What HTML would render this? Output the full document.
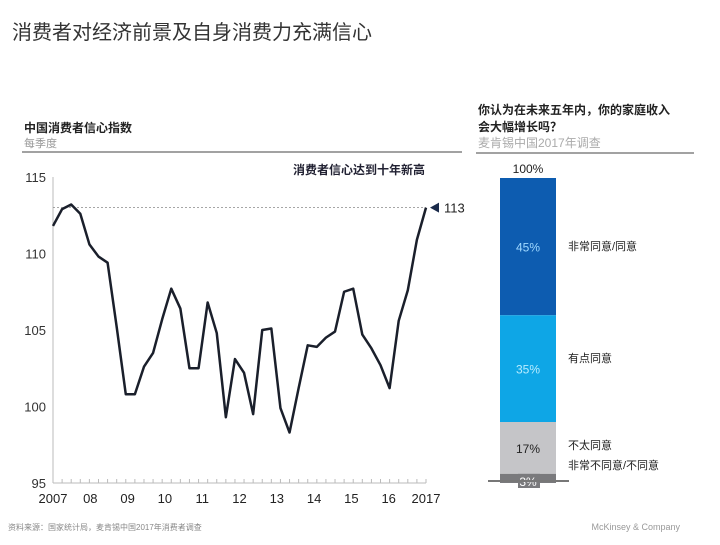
<!DOCTYPE html>
<html><head><meta charset="utf-8"><style>
body{margin:0;width:720px;height:540px;background:#fff;overflow:hidden;font-family:"Liberation Sans","Noto Sans CJK SC",sans-serif}
svg text{font-family:"Liberation Sans","Noto Sans CJK SC",sans-serif}
</style></head><body>
<svg width="720" height="540">
<text x="12" y="39" font-size="20" fill="#333">消费者对经济前景及自身消费力充满信心</text>
<text x="24" y="132" font-size="12" font-weight="bold" fill="#222">中国消费者信心指数</text>
<text x="24" y="147" font-size="11" fill="#999">每季度</text>
<line x1="22" y1="152" x2="462" y2="152" stroke="#444" stroke-width="1"/>
<text x="478" y="114" font-size="12" font-weight="bold" fill="#222">你认为在未来五年内，你的家庭收入</text>
<text x="478" y="131" font-size="12" font-weight="bold" fill="#222">会大幅增长吗？</text>
<text x="478" y="147" font-size="12" fill="#aaa">麦肯锡中国2017年调查</text>
<line x1="476" y1="153" x2="694" y2="153" stroke="#444" stroke-width="1"/>
<text x="425" y="174" font-size="12" font-weight="bold" fill="#223" text-anchor="end">消费者信心达到十年新高</text>
<g id="line"></g>
<g id="bar"></g>
<text x="8" y="530" font-size="8" fill="#888">资料来源：国家统计局，麦肯锡中国2017年消费者调查</text>
<text x="680" y="530" font-size="9" fill="#999" text-anchor="end">McKinsey &amp; Company</text>
</svg>
<script>
const values=[111.8,112.9,113.2,112.6,110.6,109.8,109.4,105.2,100.8,100.8,102.6,103.5,105.7,107.7,106.4,102.5,102.5,106.8,104.8,99.3,103.1,102.2,99.5,105.0,105.1,99.9,98.3,101.2,104.0,103.9,104.5,104.9,107.5,107.7,104.7,103.8,102.7,101.2,105.6,107.6,110.9,113.0];
const yTicks=[95,100,105,110,115];
const xLabels=['2007','08','09','10','11','12','13','14','15','16','2017'];
const highValue=113;
const barCats=['非常同意/同意','有点同意','不太同意','非常不同意/不同意'];
const barVals=[45,35,17,3];
const NS='http://www.w3.org/2000/svg';
function mk(t,a,p,txt){const e=document.createElementNS(NS,t);for(const k in a)e.setAttribute(k,a[k]);if(txt!=null)e.textContent=txt;p.appendChild(e);return e;}
const X0=53,X1=426,Y0=483,Y1=177;
const ys=v=>Y0-(v-95)/(115-95)*(Y0-Y1);
const xs=i=>X0+i*(X1-X0)/(values.length-1);
const xy=i=>X0+i*(X1-X0)/(xLabels.length-1);
const g=document.getElementById('line');
let e=mk('line',{x1:X0,y1:Y1,x2:X0,y2:Y0,stroke:'#bbb'},g);


e=mk('line',{x1:X0,y1:Y0,x2:X1,y2:Y0,stroke:'#bbb'},g);


yTicks.forEach(v=>{const t=mk('text',{x:46,y:ys(v)+5,'font-size':13,fill:'#333','text-anchor':'end'},g,String(v));

});
for(let i=0;i<values.length;i++){const t=mk('line',{x1:xs(i),y1:Y0,x2:xs(i),y2:Y0-4,stroke:'#bbb'},g);

}
xLabels.forEach((s,i)=>{const t=mk('text',{x:xy(i),y:503,'font-size':13,fill:'#222','text-anchor':'middle'},g,s);

});
e=mk('line',{x1:X0,y1:ys(highValue),x2:X1,y2:ys(highValue),stroke:'#888','stroke-dasharray':'2,2','stroke-width':0.8},g);


e=mk('polyline',{points:values.map((v,i)=>xs(i)+','+ys(v)).join(' '),fill:'none',stroke:'#1a1f2b','stroke-width':2.5,'stroke-linejoin':'round'},g);


const hy=ys(highValue);
e=mk('polygon',{points:`${X1+4},${hy} ${X1+13},${hy-5} ${X1+13},${hy+5}`,fill:'#1a2a4a'},g);


e=mk('text',{x:X1+18,y:hy+5,'font-size':13,fill:'#222'},g,String(highValue));


// bar
const b=document.getElementById('bar');
const BT=178,BB=483,BX=500,BW=56,total=barVals.reduce((a,c)=>a+c,0);
const colors=['#0d5cb0','#0ea6e6','#c5c5c8','#7a7a7d'];
const tcol=['#9fd8ff','#b8ecff','#222','#fff'];
const labY=[250,362,449,469];
let cur=BT;
barVals.forEach((v,i)=>{const h=v/total*(BB-BT);
const r=mk('rect',{x:BX,y:cur,width:BW,height:h,fill:colors[i]},b);


if(i===3){const bx=mk('rect',{x:BX+18,y:cur,width:22,height:h+5,fill:colors[i]},b);

}
const t=mk('text',{x:BX+BW/2,y:i===3?cur+h+3:cur+h/2+5,'font-size':12,fill:tcol[i],'text-anchor':'middle'},b,v+'%');


const c=mk('text',{x:568,y:labY[i],'font-size':11,fill:'#222'},b,barCats[i]);


cur+=h;});
e=mk('line',{x1:488,y1:BB-2,x2:569,y2:BB-2,stroke:'#777','stroke-width':2},b);


e=mk('text',{x:BX+BW/2,y:BT-5,'font-size':12,fill:'#222','text-anchor':'middle'},b,'100%');


</script>
</body></html>
